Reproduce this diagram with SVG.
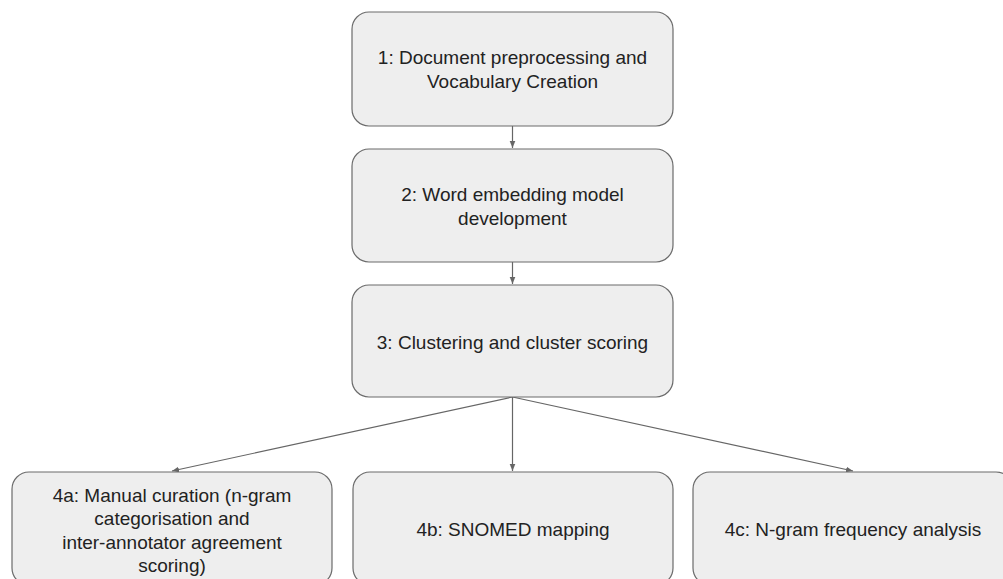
<svg xmlns="http://www.w3.org/2000/svg" width="1003" height="579" viewBox="0 0 1003 579">
<style>
.box{fill:#eeeeee;stroke:#6b6b6b;stroke-width:1.2}
.lbl{font-family:"Liberation Sans",Arial,sans-serif;font-size:19px;fill:#222;text-anchor:middle;dominant-baseline:central}
.edge{stroke:#666;stroke-width:1.2;fill:none;marker-end:url(#ah)}
</style>
<defs>
<marker id="ah" viewBox="0 0 10 10" refX="10" refY="5" markerWidth="7" markerHeight="7" markerUnits="userSpaceOnUse" orient="auto">
<path d="M0,1 L10,5 L0,9 z" fill="#666"/>
</marker>
</defs>
<rect width="1003" height="579" fill="#fff"/>
<g id="connectors">
<line class="edge" x1="512.5" y1="126" x2="512.5" y2="148"/>
<line class="edge" x1="512.5" y1="262" x2="512.5" y2="284"/>
<line class="edge" x1="512.5" y1="397" x2="172" y2="471"/>
<line class="edge" x1="512.5" y1="397" x2="512.5" y2="471"/>
<line class="edge" x1="512.5" y1="397" x2="853" y2="471"/>
</g>
<g id="n1">
<rect class="box" x="352" y="12" width="321" height="114" rx="17"/>
<text class="lbl" x="512.5" y="57">1: Document preprocessing and</text>
<text class="lbl" x="512.5" y="81">Vocabulary Creation</text>
</g>
<g id="n2">
<rect class="box" x="352" y="149" width="321" height="113" rx="17"/>
<text class="lbl" x="512.5" y="194">2: Word embedding model</text>
<text class="lbl" x="512.5" y="218">development</text>
</g>
<g id="n3">
<rect class="box" x="352" y="285" width="321" height="112" rx="17"/>
<text class="lbl" x="512.5" y="342">3: Clustering and cluster scoring</text>
</g>
<g id="n4a">
<rect class="box" x="12" y="472" width="320" height="113" rx="17"/>
<text class="lbl" x="172" y="495">4a: Manual curation (n-gram</text>
<text class="lbl" x="172" y="518.5">categorisation and</text>
<text class="lbl" x="172" y="542">inter-annotator agreement</text>
<text class="lbl" x="172" y="565.5">scoring)</text>
</g>
<g id="n4b">
<rect class="box" x="353" y="472" width="320" height="113" rx="17"/>
<text class="lbl" x="513" y="529">4b: SNOMED mapping</text>
</g>
<g id="n4c">
<rect class="box" x="693" y="472" width="320" height="113" rx="17"/>
<text class="lbl" x="853" y="529">4c: N-gram frequency analysis</text>
</g>
</svg>
